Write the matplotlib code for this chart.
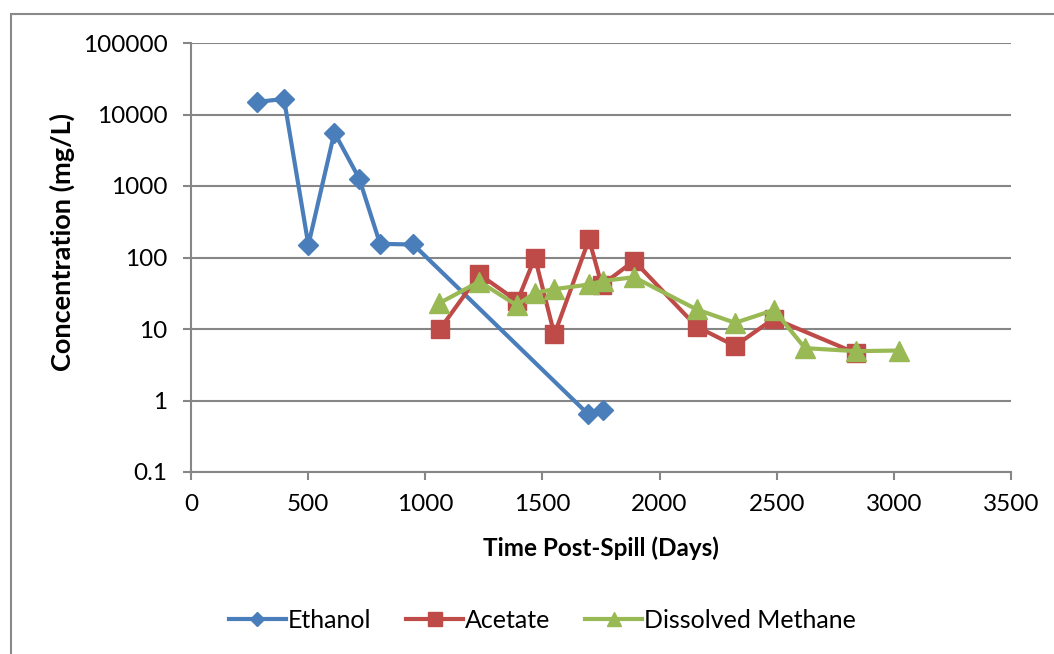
import matplotlib
matplotlib.use("Agg")
import matplotlib.pyplot as plt
from matplotlib.patches import Rectangle
from matplotlib.ticker import FixedLocator, NullLocator

plt.rcParams['font.family'] = ['Lato', 'DejaVu Sans']

# Ethanol concentrations
ethanol_days = [283, 397, 501, 612, 718, 807, 949, 1696, 1757]
ethanol_conc = [15000, 16500, 150, 5600, 1270, 155, 152, 0.64, 0.74]

# Acetate concentrations
acetate_days = [1063, 1231, 1393, 1468, 1551, 1699, 1753, 1891, 2158, 2322, 2488, 2838]
acetate_conc = [10, 58, 24.5, 100, 8.4, 180, 41, 90, 10.8, 5.8, 14, 4.6]

# Dissolved methane concentrations
methane_days = [1060, 1231, 1390, 1468, 1549, 1700, 1757, 1891, 2158, 2322, 2488, 2621, 2838, 3023]
methane_conc = [23, 46, 21.5, 32, 36, 42, 47, 53, 18.8, 12.2, 18.4, 5.4, 4.9, 5.0]

y_ticks = [0.1, 1, 10, 100, 1000, 10000, 100000]
y_tick_labels = ["0.1", "1", "10", "100", "1000", "10000", "100000"]
x_ticks = [0, 500, 1000, 1500, 2000, 2500, 3000, 3500]

BLUE = "#4A7EBB"
RED = "#BE4B48"
GREEN = "#98B954"
GRID = "#868686"

W, H = 1054, 654
fig = plt.figure(figsize=(W / 100, H / 100), dpi=100)
ax = fig.add_axes([191 / W, 1 - 472 / H, (1011 - 191) / W, (472 - 43) / H])

ax.plot(ethanol_days, ethanol_conc, color=BLUE, lw=3.0, marker="D",
        markersize=9.8, markeredgecolor=BLUE, markerfacecolor=BLUE,
        label="Ethanol", zorder=3)
ax.plot(acetate_days, acetate_conc, color=RED, lw=3.0, marker="s",
        markersize=13.5, markeredgecolor=RED, markerfacecolor=RED,
        label="Acetate", zorder=4)
ax.plot(methane_days, methane_conc, color=GREEN, lw=3.0, marker="^",
        markersize=14, markeredgecolor=GREEN, markerfacecolor=GREEN,
        label="Dissolved Methane", zorder=5)

ax.set_yscale("log")
ax.set_ylim(0.1, 100000)
ax.set_xlim(0, 3500)
ax.yaxis.set_major_locator(FixedLocator(y_ticks))
ax.yaxis.set_minor_locator(NullLocator())
ax.set_yticklabels(y_tick_labels)
ax.set_xticks(x_ticks)

ax.grid(axis="y", color=GRID, lw=1.5)
ax.set_axisbelow(True)
for side in ("top", "right"):
    ax.spines[side].set_visible(False)
for side in ("left", "bottom"):
    ax.spines[side].set_color(GRID)
    ax.spines[side].set_linewidth(1.5)

ax.tick_params(axis="both", which="major", direction="out", length=6,
               width=1.5, color=GRID, labelsize=17.5, labelcolor="black")
ax.tick_params(axis="y", pad=11)
ax.tick_params(axis="x", pad=10)

ax.set_xlabel("Time Post-Spill (Days)", fontsize=17.5, fontweight="bold", labelpad=15)
ax.set_ylabel("Concentration (mg/L)", fontsize=19.5, fontweight="bold")
ax.yaxis.set_label_coords((75 - 191) / 820, 1 - (242 - 43) / 429)

fig.legend(loc="center", bbox_to_anchor=(542 / W, 1 - 620 / H), ncol=3,
           frameon=False, fontsize=18, handlelength=2.3, handletextpad=0.05,
           columnspacing=1.4, markerscale=0.75)

# chart-area frame
fig.patches.append(Rectangle((11 / W, -0.1), 1.2, 1 - 14 / H + 0.1,
                             transform=fig.transFigure, fill=False,
                             edgecolor="#898989", lw=1.5))

fig.savefig("out.png", dpi=100)
